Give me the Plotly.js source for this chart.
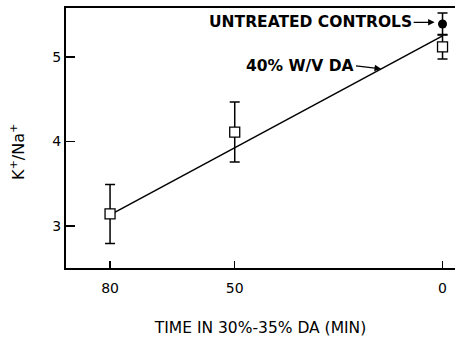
<!DOCTYPE html>
<html>
<head>
<meta charset="utf-8">
<script src="https://cdn.plot.ly/plotly-3.0.1.min.js"></script>
<style>html,body{margin:0;padding:0;background:#fff;}</style>
</head>
<body>
<div id="chart" style="width:457px;height:339px;"></div>
<script>
// Data
var daTime = [80, 50, 0];
var daRatio = [3.14, 4.11, 5.12];
var daErr = [0.35, 0.355, 0.145];

var ctrlTime = [0];
var ctrlRatio = [5.39];
var ctrlErr = [0.13];

var fitTime = [80, 0];
var fitRatio = [3.13, 5.25];

var xTicks = [80, 50, 0];
var yTicks = [3, 4, 5];

var FONT = 'DejaVu Sans, Verdana, sans-serif';

var traces = [
  {x: fitTime, y: fitRatio, mode: 'lines', type: 'scatter',
   line: {color: '#000', width: 1.5}, hoverinfo: 'skip', showlegend: false},
  {x: daTime, y: daRatio, mode: 'markers', type: 'scatter', name: '40% W/V DA',
   marker: {symbol: 'square', size: 10, color: '#fff', line: {color: '#000', width: 1.3}},
   error_y: {type: 'data', array: daErr, visible: true, color: '#000', thickness: 1.5, width: 5},
   showlegend: false},
  {x: ctrlTime, y: ctrlRatio, mode: 'markers', type: 'scatter', name: 'Untreated controls',
   marker: {symbol: 'circle', size: 9, color: '#000'},
   error_y: {type: 'data', array: ctrlErr, visible: true, color: '#000', thickness: 1.5, width: 5},
   showlegend: false}
];

var layout = {
  width: 457, height: 339,
  margin: {l: 66, r: 2, t: 8, b: 71},
  paper_bgcolor: '#fff', plot_bgcolor: '#fff',
  font: {family: FONT, color: '#000', size: 13},
  showlegend: false,
  xaxis: {
    range: [90.6, -3], tickvals: xTicks, ticktext: xTicks.map(String),
    ticks: 'inside', ticklen: 7, tickwidth: 1.5, tickcolor: '#000',
    showline: true, linecolor: '#000', linewidth: 2, mirror: true,
    showgrid: false, zeroline: false, ticklabelstandoff: 6,
    tickfont: {size: 14, family: FONT},
    title: {text: 'TIME IN 30%-35% DA (MIN)', font: {size: 15.5, family: FONT}, standoff: 27}
  },
  yaxis: {
    range: [2.5, 5.58], tickvals: yTicks, ticktext: yTicks.map(String),
    ticks: 'inside', ticklen: 9, tickwidth: 1.5, tickcolor: '#000',
    showline: true, linecolor: '#000', linewidth: 2,
    showgrid: false, zeroline: false,
    tickfont: {size: 14, family: FONT}
  },
  annotations: [
    {xref: 'x', yref: 'y', x: 1.9, y: 5.41, text: 'UNTREATED CONTROLS', showarrow: true,
     ax: -21, ay: 0, xanchor: 'right', yanchor: 'middle',
     arrowhead: 2, arrowsize: 1, arrowwidth: 1.3, arrowcolor: '#000', standoff: 0,
     font: {size: 15.5, family: FONT, weight: 'bold'}},
    {xref: 'x', yref: 'y', x: 14.8, y: 4.86, text: '40% W/V DA', showarrow: true,
     ax: -25, ay: -3, xanchor: 'right', yanchor: 'middle',
     arrowhead: 2, arrowsize: 1, arrowwidth: 1.3, arrowcolor: '#000', standoff: 0,
     font: {size: 15.5, family: FONT, weight: 'bold'}},
    {xref: 'paper', yref: 'paper', x: (17 - 66) / 389, y: (268 - 152) / 260,
     text: 'K<sup>+</sup>/Na<sup>+</sup>', showarrow: false, textangle: -90,
     xanchor: 'center', yanchor: 'middle', font: {size: 16, family: FONT}}
  ]
};

Plotly.newPlot('chart', traces, layout, {displayModeBar: false, staticPlot: true});
</script>
</body>
</html>
